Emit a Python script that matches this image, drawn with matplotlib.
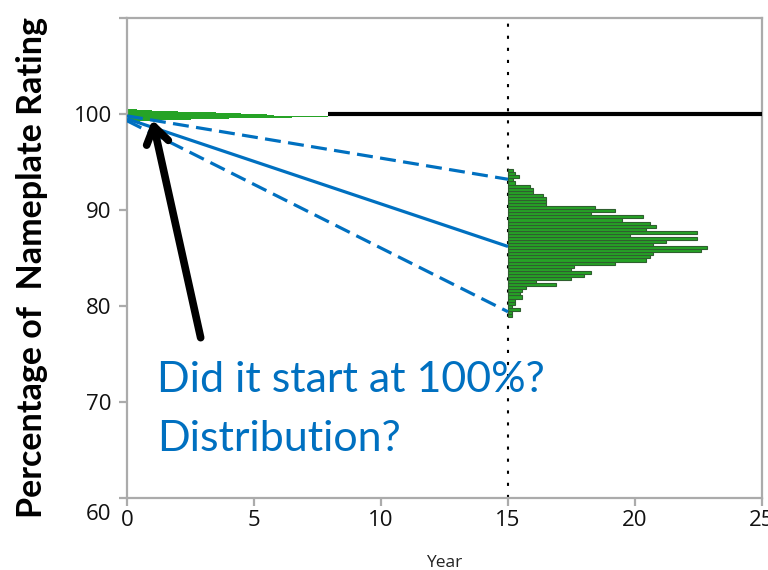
import matplotlib
matplotlib.use("Agg")
import matplotlib.pyplot as plt
import numpy as np
from matplotlib.transforms import ScaledTranslation

# ---- data -------------------------------------------------------------
x_ticks = [0, 5, 10, 15, 20, 25]
y_ticks = [60, 70, 80, 90, 100]

nameplate_level = 100
nameplate_start = 7.9
nameplate_end = 25

horizon_year = 15

# degradation trajectories: (start value, value at year 15)
mean_start, mean_end = 99.5, 86.2
upper_start, upper_end = 99.8, 93.2
lower_start, lower_end = 99.3, 79.4

# distribution of initial ratings around 100 (bin centre, bar length)
init_centres = [99.25, 99.35, 99.45, 99.55, 99.65, 99.75, 99.85, 99.95,
                100.05, 100.15, 100.25, 100.35, 100.45]
init_lengths = [0.5, 1.2, 2.5, 4.0, 6.5, 7.9, 5.8, 5.5,
                4.5, 3.5, 2.0, 1.0, 0.4]

# distribution of ratings at year 15 (bins from the bottom up)
hist15_start = 78.85
hist15_width = 0.321
hist15_lengths = [0.16, 0.16, 0.46, 0.16, 0.29, 0.29, 0.55, 0.46, 0.55, 0.72,
                  1.90, 1.12, 2.47, 2.99, 3.25, 2.47, 2.60, 4.20, 5.45, 5.58,
                  5.71, 7.59, 7.85, 5.71, 6.23, 7.45, 4.79, 7.45, 5.45, 5.84,
                  5.58, 4.49, 5.31, 3.28, 4.20, 3.41, 1.51, 1.51, 1.51, 1.38,
                  0.98, 0.98, 0.85, 0.29, 0.20, 0.42, 0.29, 0.20]

question_lines = ["Did it start at 100%?", "Distribution?"]

# ---- style --------------------------------------------------------------
BLUE = "#0070C0"
GREEN = "#26A326"
GREEN_EDGE = "#2f5f2f"
AXIS_GREY = "#ABABAB"

plt.rcParams["font.family"] = ["Open Sans", "DejaVu Sans"]

fig = plt.figure(figsize=(7.68, 5.70), dpi=100)
ax = fig.add_axes([127 / 768, 1 - 498 / 570, (762 - 127) / 768, (498 - 18) / 570])
ax.set_xlim(0, 25)
ax.set_ylim(60, 110)

# initial distribution near 100
ax.barh(init_centres, init_lengths, height=0.1, left=0, color=GREEN,
        edgecolor="none", zorder=2)

# distribution at year 15
centres15 = hist15_start + hist15_width * (np.arange(len(hist15_lengths)) + 0.5)
ax.barh(centres15, hist15_lengths, height=hist15_width, left=horizon_year,
        color=GREEN, edgecolor=GREEN_EDGE, linewidth=0.8, zorder=2)

# nameplate line
ax.plot([nameplate_start, nameplate_end], [nameplate_level, nameplate_level],
        color="black", lw=3, solid_capstyle="butt", zorder=3)

# degradation lines
ax.plot([0, horizon_year], [mean_start, mean_end], color=BLUE, lw=2.3,
        solid_capstyle="butt", zorder=4)
for s, e in [(upper_start, upper_end), (lower_start, lower_end)]:
    ax.plot([0, horizon_year], [s, e], color=BLUE, lw=2.3,
            dashes=(5, 2.3), zorder=4)

# vertical marker at year 15
ax.axvline(horizon_year, color="black", lw=1.5, dashes=(1.5, 4.3), zorder=1)

# arrow pointing at the start
ax.annotate("", xy=(1.0, 99.4), xytext=(2.9, 76.7),
            arrowprops=dict(arrowstyle="->,head_length=0.6,head_width=0.4",
                            lw=5.5, color="black", mutation_scale=20,
                            shrinkA=0, shrinkB=0),
            zorder=5)

# question text
fig.text(157 / 768, 1 - 380 / 570, question_lines[0], color=BLUE,
         fontsize=31, family=["Lato", "DejaVu Sans"], va="center", ha="left")
fig.text(157 / 768, 1 - 439 / 570, question_lines[1], color=BLUE,
         fontsize=31, family=["Lato", "DejaVu Sans"], va="center", ha="left")

# axes styling
for side in ["left", "right", "top", "bottom"]:
    ax.spines[side].set_color(AXIS_GREY)
    ax.spines[side].set_linewidth(1.6)

ax.set_xticks(x_ticks)
ax.set_xticklabels([str(v) for v in x_ticks])
ax.set_yticks(y_ticks + [110])
ax.set_yticklabels([str(v) for v in y_ticks] + [""])
ax.tick_params(axis="both", which="major", color=AXIS_GREY, width=1.6,
               length=6, labelsize=16, labelcolor="#111111")
ax.tick_params(axis="x", pad=3)
ax.tick_params(axis="y", pad=5)

# the bottom y label sits below the x axis
lbl60 = ax.get_yticklabels()[0]
lbl60.set_transform(lbl60.get_transform() +
                    ScaledTranslation(0, -10 / 72, fig.dpi_scale_trans))

ax.set_xlabel("Year", fontsize=12.5, color="#222222", labelpad=17)
fig.text(32 / 768, 1 - 268 / 570, "Percentage of  Nameplate Rating",
         rotation=90, fontsize=24.5, fontweight="bold",
         family=["Lato", "DejaVu Sans"], va="center", ha="center")

fig.savefig("out.png", dpi=100)
